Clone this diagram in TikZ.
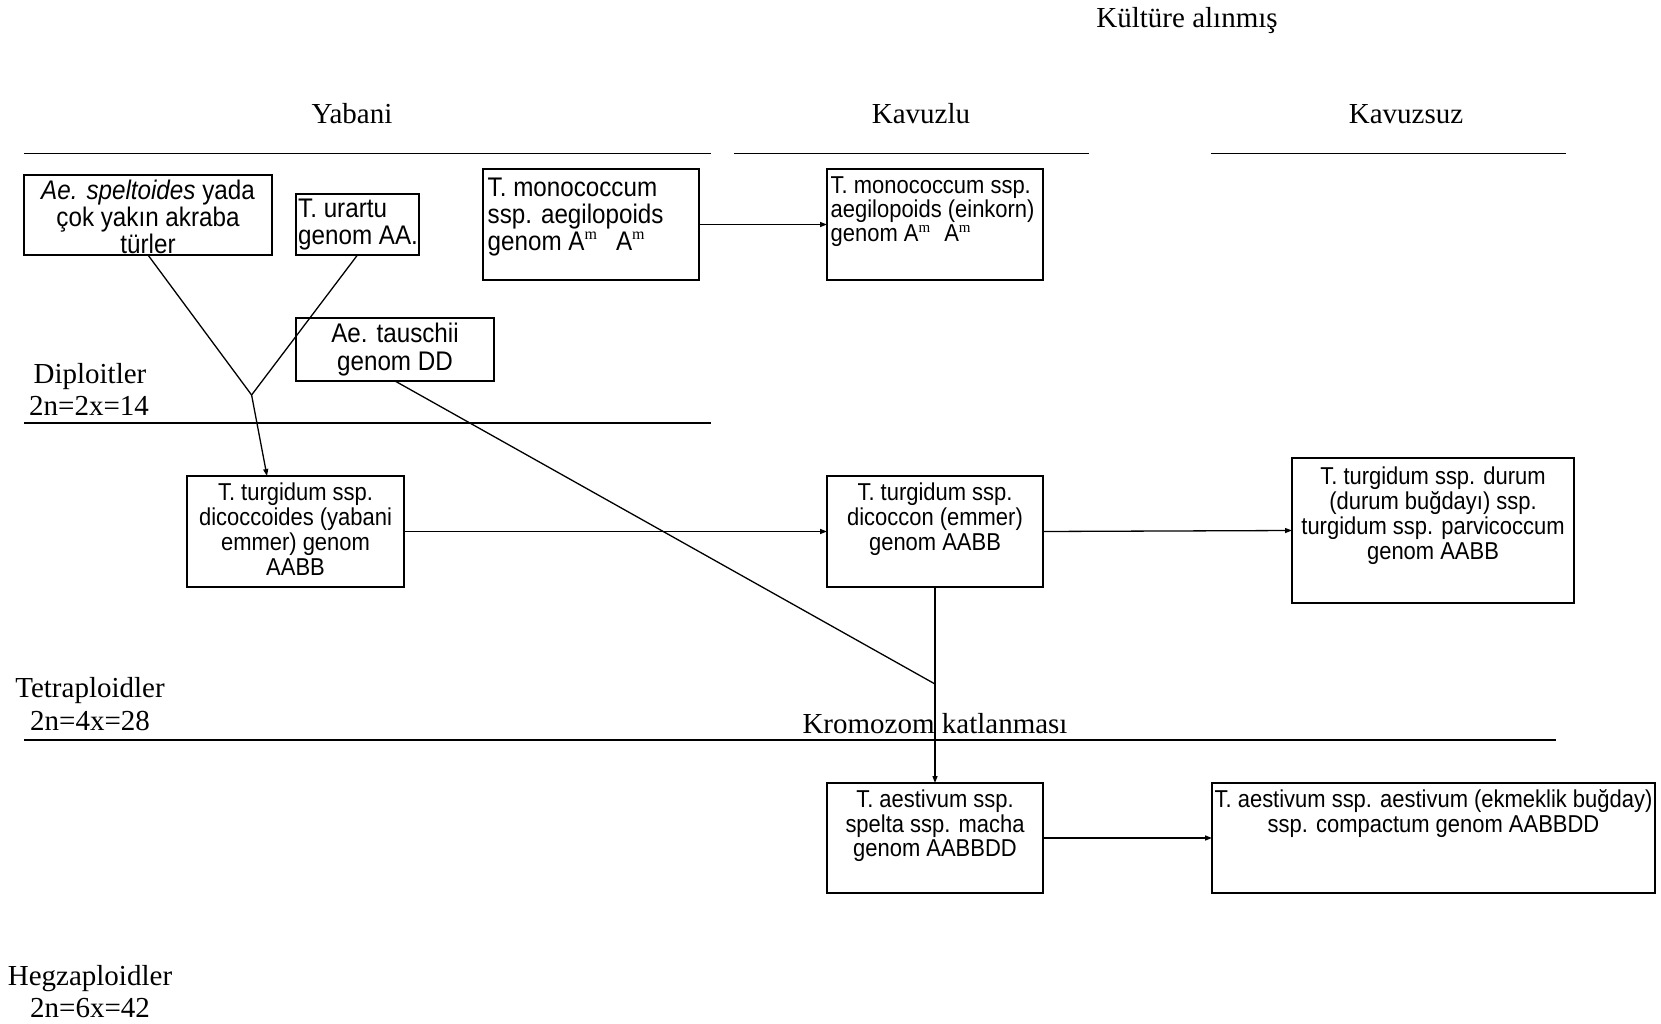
\documentclass[tikz,border=0pt]{standalone}
\usepackage{fontspec}
\setmainfont{Liberation Serif}
\newfontfamily\boxsf{Liberation Sans}[FakeStretch=0.9]
\usetikzlibrary{arrows.meta}
\newcommand{\fl}{\rule{0pt}{20pt}}
\newcommand{\supmA}{\raisebox{11pt}{\fontsize{16}{16}\selectfont\rmfamily m}}
\newcommand{\supmB}{\raisebox{9.5pt}{\fontsize{15}{15}\selectfont\rmfamily m}}
\begin{document}
\setlength{\lineskiplimit}{-50pt}
\begin{tikzpicture}[x=1pt,y=-1pt,
  frame/.style={draw, line width=1.5pt, inner sep=0pt, outer sep=0pt},
  conn/.style={line width=1.3pt},
  arr/.style={conn, -{Triangle[length=7pt,width=5pt]}},
  hrule/.style={line width=1.5pt},
  lab/.style={font=\fontsize{29}{32}\selectfont, inner sep=0pt, anchor=base},
  txt/.style args={#1/#2}{font=\boxsf\fontsize{#1}{#2}\selectfont, inner sep=0pt, align=center},
]
\useasboundingbox[fill=white] (0,0) rectangle (1661,1024);

% ---- rules
\draw[hrule] (24,153.5) -- (711,153.5);
\draw[hrule] (734,153.5) -- (1089,153.5);
\draw[hrule] (1211,153.5) -- (1566,153.5);
\draw[hrule] (24,423) -- (711,423);
\draw[hrule] (24,740) -- (1556,740);

% ---- serif labels
\node[lab] (kult) at (1187,28) {Kültüre alınmış};
\node[lab] (yab) at (352,123.3) {Yabani};
\node[lab] (kvl) at (921,123.3) {Kavuzlu};
\node[lab] (kvs) at (1406,123.3) {Kavuzsuz};
\node[lab] (dip1) at (90,383) {Diploitler};
\node[lab] (dip2) at (89,415) {2n=2x=14};
\node[lab] (tet1) at (90,697) {Tetraploidler};
\node[lab] (tet2) at (90,730) {2n=4x=28};
\node[lab] (hek1) at (90,985) {Hegzaploidler};
\node[lab] (hek2) at (90,1017) {2n=6x=42};
\node[lab] (krom) at (935,733.5) {Kromozom katlanması};

% ---- boxes
\node[frame, minimum width=248pt, minimum height=80pt] (sp) at (148,215) {};
\node[frame, minimum width=123pt, minimum height=61pt] (ur) at (357.5,224.5) {};
\node[frame, minimum width=216pt, minimum height=111pt] (mo) at (591,224.5) {};
\node[frame, minimum width=216pt, minimum height=111pt] (ei) at (935,224.5) {};
\node[frame, minimum width=198pt, minimum height=63pt] (ta) at (395,349.5) {};
\node[frame, minimum width=217pt, minimum height=111pt] (dc) at (295.5,531.5) {};
\node[frame, minimum width=216pt, minimum height=111pt] (dn) at (935,531.5) {};
\node[frame, minimum width=282pt, minimum height=145pt] (du) at (1433,530.5) {};
\node[frame, minimum width=216pt, minimum height=110pt] (s2) at (935,838) {};
\node[frame, minimum width=443pt, minimum height=110pt] (ae) at (1433.5,838) {};

% ---- box texts
\node[txt=26.9/27, anchor=north] (spT) at (148,179.5)
  {\fl\textit{Ae. speltoides} yada\\çok yakın akraba\\türler};
\node[txt=26.9/27.5, align=left, anchor=north west] (urT) at (298,197)
  {\fl T. urartu\\genom AA.};
\node[txt=26.9/27, align=left, anchor=north west] (moT) at (487.5,176)
  {\fl T. monococcum\\ssp. aegilopoids\\genom A\supmA\hspace{19pt}A\supmA};
\node[txt=24.4/24, align=left, anchor=north west] (eiT) at (830.5,173.7)
  {\fl T. monococcum ssp.\\aegilopoids (einkorn)\\genom A\supmB\hspace{14pt}A\supmB};
\node[txt=26.9/28, anchor=north] (taT) at (395,322.5)
  {\fl Ae. tauschii\\genom DD};
\node[txt=24.4/25, anchor=north] (dcT) at (295.5,480)
  {\fl T. turgidum ssp.\\dicoccoides (yabani\\emmer) genom\\AABB};
\node[txt=24.4/25, anchor=north] (dnT) at (935,480)
  {\fl T. turgidum ssp.\\dicoccon (emmer)\\genom AABB};
\node[txt=24.4/24.7, anchor=north] (duT) at (1433,464.7)
  {\fl T. turgidum ssp. durum\\(durum buğdayı) ssp.\\turgidum ssp. parvicoccum\\genom AABB};
\node[txt=24.4/24.5, anchor=north] (s2T) at (935,787.7)
  {\fl T. aestivum ssp.\\spelta ssp. macha\\genom AABBDD};
\node[txt=24.4/24.5, anchor=north] (aeT) at (1433.5,787.7)
  {\fl T. aestivum ssp. aestivum (ekmeklik buğday)\\ssp. compactum genom AABBDD};

% ---- connectors
\coordinate (J) at (251.6,395);
\coordinate (K) at (935,684);
\draw[conn] (sp.south) -- (J);
\draw[conn] (ur.south) -- (J);
\draw[arr] (J) -- ([xshift=-28.5pt]dc.north);
\draw[conn] (ta.south) -- (K);
\draw[arr] (dn.south) -- (s2.north);
\draw[arr] (mo.east) -- (ei.west);
\draw[arr] (dc.east) -- (dn.west);
\draw[arr] (dn.east) -- (du.west);
\draw[arr] (s2.east) -- (ae.west);
\end{tikzpicture}
\end{document}
